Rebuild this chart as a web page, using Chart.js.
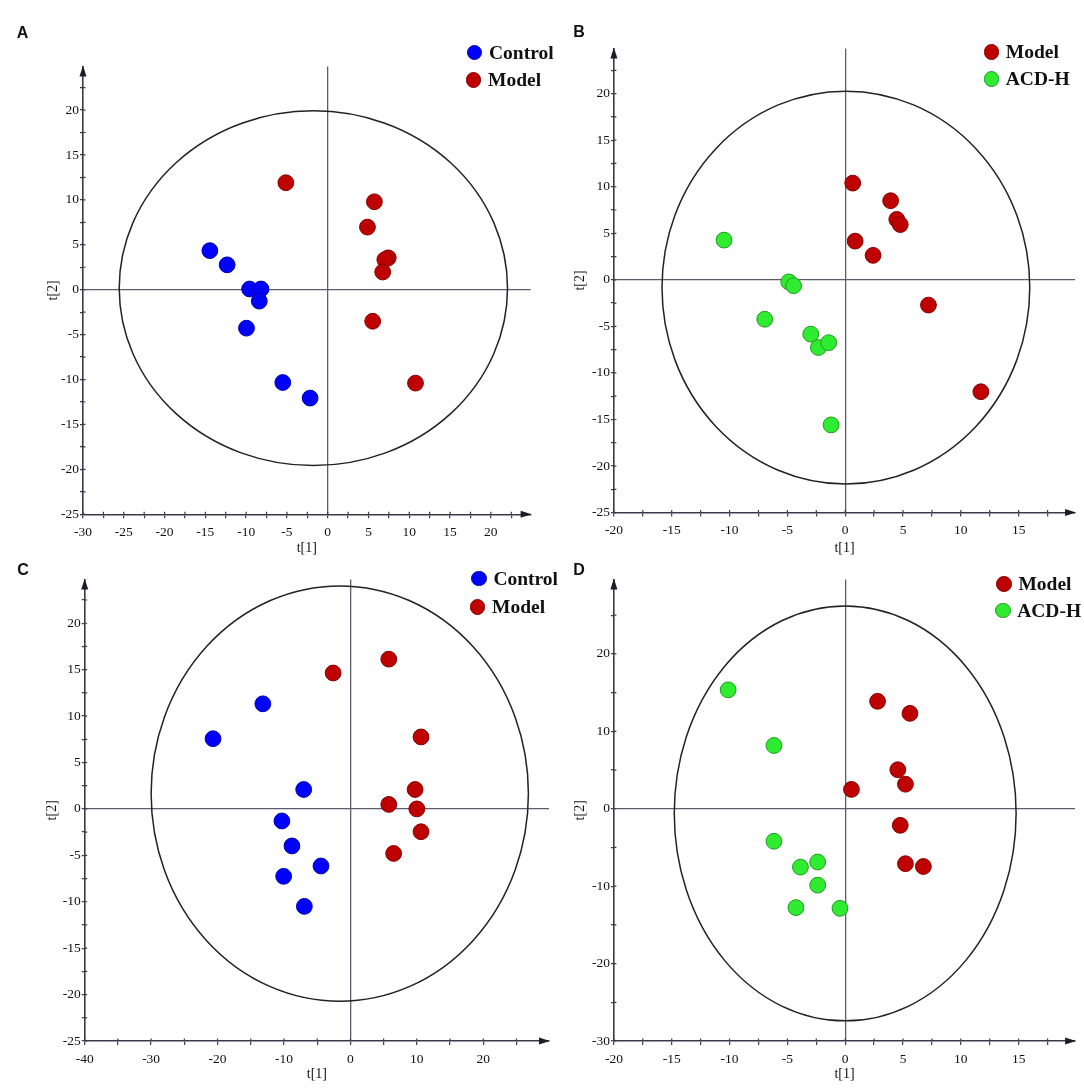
<!DOCTYPE html>
<html><head><meta charset="utf-8">
<script src="https://cdn.jsdelivr.net/npm/chart.js@4.4.0/dist/chart.umd.min.js"></script>
<style>
html,body{margin:0;padding:0;background:#fff;}
body{width:1084px;height:1091px;overflow:hidden;position:relative;}
.panel{position:absolute;}
.panel canvas{display:block;}
.letter{position:absolute;font:bold 16px "Liberation Sans",Arial,sans-serif;line-height:1;color:#111;transform:translate(-50%,-50%);}
.leg{position:absolute;height:28px;font:bold 19.5px "Liberation Serif","Times New Roman",serif;line-height:1;color:#111;white-space:nowrap;display:flex;align-items:center;}
.dot{display:inline-block;width:15.6px;height:15.6px;border-radius:50%;box-sizing:border-box;border:1px solid;margin-right:6.6px;flex:none;}
</style></head><body>
<script>
// ---------------- DATA ----------------
const panelLetters = ["A", "B", "C", "D"];
const xTitle = "t[1]";
const yTitle = "t[2]";

// Panel A: Control vs Model
const aControlX = [-14.45, -12.33, -9.58, -8.18, -8.39, -9.96, -5.51, -2.16];
const aControlY = [4.35, 2.77, 0.08, 0.08, -1.27, -4.28, -10.33, -12.06];
const aModelX = [-5.13, 5.72, 4.87, 7.42, 7.0, 6.74, 5.51, 10.76];
const aModelY = [11.91, 9.79, 6.97, 3.55, 3.35, 1.97, -3.51, -10.40];

// Panel B: Model vs ACD-H
const bModelX = [0.65, 3.93, 4.46, 4.76, 0.86, 2.41, 7.2, 11.73];
const bModelY = [10.39, 8.50, 6.49, 5.94, 4.16, 2.63, -2.71, -12.02];
const bAcdX = [-10.48, -4.88, -4.46, -6.96, -2.98, -2.32, -1.43, -1.22];
const bAcdY = [4.27, -0.22, -0.63, -4.23, -5.83, -7.27, -6.75, -15.58];

// Panel C: Control vs Model
const cControlX = [-20.68, -13.18, -7.03, -10.31, -8.80, -4.43, -10.05, -6.93];
const cControlY = [7.56, 11.32, 2.09, -1.30, -3.99, -6.15, -7.26, -10.50];
const cModelX = [-2.60, 5.78, 10.63, 9.74, 5.78, 10.0, 10.63, 6.51];
const cModelY = [14.64, 16.13, 7.75, 2.09, 0.48, 0.0, -2.46, -4.80];

// Panel D: Model vs ACD-H
const dModelX = [2.80, 5.60, 4.55, 5.21, 0.54, 4.76, 5.21, 6.76];
const dModelY = [13.88, 12.32, 5.04, 3.17, 2.5, -2.14, -7.10, -7.46];
const dAcdX = [-10.12, -6.16, -6.16, -2.38, -3.87, -2.38, -4.26, -0.45];
const dAcdY = [15.36, 8.17, -4.20, -6.88, -7.54, -9.87, -12.77, -12.86];

// Hotelling T2 ellipses: [centreX, centreY, radiusX, radiusY] in data units
const aEllipse = [-1.76, 0.17, 23.8, 19.75];
const bEllipse = [0.06, -0.83, 15.9, 21.1];
const cEllipse = [-1.6, 1.65, 28.4, 22.37];
const dEllipse = [0.0, -0.6, 14.78, 26.8];

// Axis ranges
const aXRange = [-30, 24.87], aYRange = [-25, 24.86];
const bXRange = [-20, 19.88], bYRange = [-25, 24.86];
const cXRange = [-40, 29.9],  cYRange = [-25, 24.7];
const dXRange = [-20, 19.88], dYRange = [-30, 29.6];

// Tick labels (major) and minor tick marks
const aXTicks = [-30, -25, -20, -15, -10, -5, 0, 5, 10, 15, 20];
const aXMinor = [-27.5, -22.5, -17.5, -12.5, -7.5, -2.5, 2.5, 7.5, 12.5, 17.5, 22.5];
const aYTicks = [-25, -20, -15, -10, -5, 0, 5, 10, 15, 20];
const aYMinor = [-22.5, -17.5, -12.5, -7.5, -2.5, 2.5, 7.5, 12.5, 17.5, 22.5];
const bXTicks = [-20, -15, -10, -5, 0, 5, 10, 15];
const bXMinor = [-17.5, -12.5, -7.5, -2.5, 2.5, 7.5, 12.5, 17.5];
const bYTicks = [-25, -20, -15, -10, -5, 0, 5, 10, 15, 20];
const bYMinor = [-22.5, -17.5, -12.5, -7.5, -2.5, 2.5, 7.5, 12.5, 17.5, 22.5];
const cXTicks = [-40, -30, -20, -10, 0, 10, 20];
const cXMinor = [-35, -25, -15, -5, 5, 15, 25];
const cYTicks = [-25, -20, -15, -10, -5, 0, 5, 10, 15, 20];
const cYMinor = [-22.5, -17.5, -12.5, -7.5, -2.5, 2.5, 7.5, 12.5, 17.5, 22.5];
const dXTicks = [-20, -15, -10, -5, 0, 5, 10, 15];
const dXMinor = [-17.5, -12.5, -7.5, -2.5, 2.5, 7.5, 12.5, 17.5];
const dYTicks = [-30, -20, -10, 0, 10, 20];
const dYMinor = [-25, -15, -5, 5, 15, 25];

// ---------------- STYLES / LAYOUT ----------------
const groupStyle = {
  "Control": {fill: "#0000FF", stroke: "#0000B0"},
  "Model":   {fill: "#BE0000", stroke: "#850000"},
  "ACD-H":   {fill: "#30EC30", stroke: "#1E9A1E"}
};
const serif = '"Liberation Serif","Times New Roman",serif';
const axisColor = '#3a3a4c';

const geo = {
  A: {left: 0,   top: 0,   W: 542, H: 560, area: {l: 83,   r: 530.6, t: 66.4, b: 514.3}, xTitleY: 548.3, yTitleX: 53.6,
      letter: [22.5, 32.8], legend: [[474.6, 52.5], [473.6, 80.2]]},
  B: {left: 542, top: 0,   W: 542, H: 560, area: {l: 71.9, r: 535.1, t: 48.4, b: 512.6}, xTitleY: 548.3, yTitleX: 38.7,
      letter: [579, 32], legend: [[991.4, 51.8], [991.4, 79.2]]},
  C: {left: 0,   top: 545, W: 560, H: 546, area: {l: 84.7, r: 549,   t: 34.6, b: 496},   xTitleY: 528.9, yTitleX: 52.5,
      letter: [23, 570], legend: [[479, 578.5], [477.7, 607.2]]},
  D: {left: 542, top: 545, W: 542, H: 546, area: {l: 71.9, r: 535.1, t: 34.6, b: 496},   xTitleY: 528.9, yTitleX: 38.7,
      letter: [579, 570], legend: [[1004, 584], [1002.8, 610.7]]}
};

const panels = [
  {key: "A", series: [["Control", aControlX, aControlY], ["Model", aModelX, aModelY]], ell: aEllipse,
   xr: aXRange, yr: aYRange, xt: aXTicks, xm: aXMinor, yt: aYTicks, ym: aYMinor},
  {key: "B", series: [["Model", bModelX, bModelY], ["ACD-H", bAcdX, bAcdY]], ell: bEllipse,
   xr: bXRange, yr: bYRange, xt: bXTicks, xm: bXMinor, yt: bYTicks, ym: bYMinor},
  {key: "C", series: [["Control", cControlX, cControlY], ["Model", cModelX, cModelY]], ell: cEllipse,
   xr: cXRange, yr: cYRange, xt: cXTicks, xm: cXMinor, yt: cYTicks, ym: cYMinor},
  {key: "D", series: [["Model", dModelX, dModelY], ["ACD-H", dAcdX, dAcdY]], ell: dEllipse,
   xr: dXRange, yr: dYRange, xt: dXTicks, xm: dXMinor, yt: dYTicks, ym: dYMinor}
];

const decorPlugin = {
  id: 'decor',
  beforeDatasetsDraw(chart) {
    const {ctx, scales: {x, y}, chartArea: a} = chart;
    const e = chart.options.plugins.decor.ellipse;
    const cx = x.getPixelForValue(e[0]), cy = y.getPixelForValue(e[1]);
    const rx = Math.abs(x.getPixelForValue(e[0] + e[2]) - cx);
    const ry = Math.abs(y.getPixelForValue(e[1] + e[3]) - cy);
    ctx.save();
    ctx.beginPath();
    ctx.ellipse(cx, cy, rx, ry, 0, 0, Math.PI * 2);
    ctx.strokeStyle = '#222';
    ctx.lineWidth = 1.5;
    ctx.stroke();
    // short inner halves of the tick marks (ticks cross the axis line)
    ctx.strokeStyle = axisColor;
    ctx.lineWidth = 1.2;
    ctx.beginPath();
    x.ticks.forEach(t => {
      const px = x.getPixelForValue(t.value);
      ctx.moveTo(px, a.bottom); ctx.lineTo(px, a.bottom - 2.5);
    });
    y.ticks.forEach(t => {
      const py = y.getPixelForValue(t.value);
      ctx.moveTo(a.left, py); ctx.lineTo(a.left + 2.5, py);
    });
    ctx.stroke();
    ctx.restore();
  },
  afterDraw(chart) {
    const {ctx, chartArea: a} = chart;
    ctx.save();
    ctx.fillStyle = '#1c1c28';
    ctx.beginPath();
    ctx.moveTo(a.right + 1, a.bottom);
    ctx.lineTo(a.right - 10, a.bottom - 3.5);
    ctx.lineTo(a.right - 10, a.bottom + 3.5);
    ctx.closePath(); ctx.fill();
    ctx.beginPath();
    ctx.moveTo(a.left, a.top - 1);
    ctx.lineTo(a.left - 3.5, a.top + 10);
    ctx.lineTo(a.left + 3.5, a.top + 10);
    ctx.closePath(); ctx.fill();
    ctx.restore();
  }
};

function axisOpts(range, major, minor, isX, g) {
  const all = major.concat(minor).sort((p, q) => p - q);
  const lh = 14 * 1.2;
  return {
    type: 'linear',
    position: isX ? 'bottom' : 'left',
    min: range[0], max: range[1],
    afterBuildTicks: s => { s.ticks = all.map(v => ({value: v})); },
    afterFit: s => { if (isX) s.height = g.H - g.area.b; else s.width = g.area.l; },
    ticks: {
      autoSkip: false, maxRotation: 0, minRotation: 0,
      padding: isX ? 6 : 1,
      color: '#111',
      font: {family: serif, size: 13.5},
      callback: v => major.includes(v) ? String(v) : ''
    },
    grid: {
      drawOnChartArea: true,
      color: c => (c.tick && c.tick.value === 0) ? '#5c5c6c' : 'rgba(0,0,0,0)',
      lineWidth: 1.3,
      drawTicks: true,
      tickLength: isX ? 4 : 3,
      tickColor: axisColor,
      tickWidth: 1.2
    },
    border: {display: true, color: axisColor, width: 1.6},
    title: {
      display: true,
      text: isX ? xTitle : yTitle,
      color: '#111',
      font: {family: serif, size: 14},
      padding: isX ? {top: 0, bottom: g.H - g.xTitleY - lh / 2} : {top: g.yTitleX - lh / 2, bottom: 0}
    }
  };
}

panels.forEach((p, idx) => {
  const g = geo[p.key];
  const div = document.createElement('div');
  div.className = 'panel';
  div.style.left = g.left + 'px';
  div.style.top = g.top + 'px';
  const cv = document.createElement('canvas');
  cv.width = g.W; cv.height = g.H;
  cv.style.width = g.W + 'px'; cv.style.height = g.H + 'px';
  div.appendChild(cv);
  document.body.appendChild(div);

  const datasets = p.series.map(([name, xs, ys]) => ({
    label: name,
    data: xs.map((v, i) => ({x: v, y: ys[i]})),
    backgroundColor: groupStyle[name].fill,
    borderColor: groupStyle[name].stroke,
    borderWidth: 1,
    pointRadius: 7.9,
    pointHoverRadius: 7.9,
    clip: false
  }));

  new Chart(cv, {
    type: 'scatter',
    data: {datasets},
    options: {
      responsive: false,
      animation: false,
      devicePixelRatio: 1,
      layout: {padding: {left: 0, top: g.area.t, right: g.W - g.area.r, bottom: 0}},
      plugins: {legend: {display: false}, tooltip: {enabled: false}, decor: {ellipse: p.ell}},
      scales: {
        x: axisOpts(p.xr, p.xt, p.xm, true, g),
        y: axisOpts(p.yr, p.yt, p.ym, false, g)
      }
    },
    plugins: [decorPlugin]
  });

  // panel letter
  const L = document.createElement('div');
  L.className = 'letter';
  L.textContent = panelLetters[idx];
  L.style.left = g.letter[0] + 'px';
  L.style.top = g.letter[1] + 'px';
  document.body.appendChild(L);

  // legend
  p.series.forEach(([name], k) => {
    const pos = g.legend[k];
    const item = document.createElement('div');
    item.className = 'leg';
    item.style.left = (pos[0] - 7.8) + 'px';
    item.style.top = (pos[1] - 14) + 'px';
    const d = document.createElement('span');
    d.className = 'dot';
    d.style.background = groupStyle[name].fill;
    d.style.borderColor = groupStyle[name].stroke;
    const t = document.createElement('span');
    t.textContent = name;
    item.appendChild(d); item.appendChild(t);
    document.body.appendChild(item);
  });
});
</script>
</body></html>
